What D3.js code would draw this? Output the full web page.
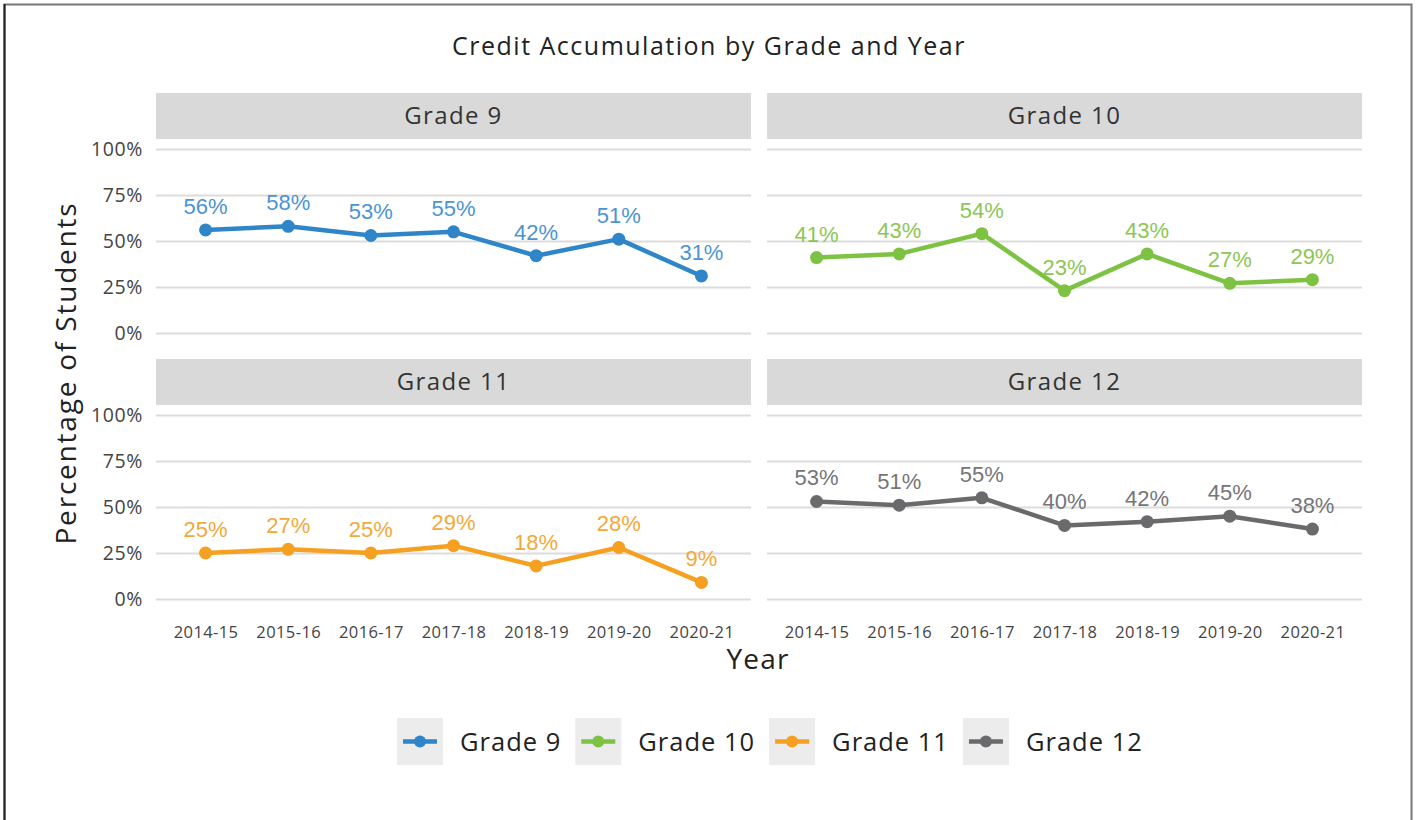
<!DOCTYPE html>
<html><head><meta charset="utf-8">
<script src="https://cdn.jsdelivr.net/npm/d3@7"></script>
<style>body{margin:0;background:#fff;} svg{display:block;}</style>
</head><body>
<svg id="c" width="1416" height="820"></svg>
<script>
const years = ["2014-15","2015-16","2016-17","2017-18","2018-19","2019-20","2020-21"];
const grades = ["Grade 9","Grade 10","Grade 11","Grade 12"];
const grade9 = [56,58,53,55,42,51,31];
const grade10 = [41,43,54,23,43,27,29];
const grade11 = [25,27,25,29,18,28,9];
const grade12 = [53,51,55,40,42,45,38];
const yTicks = [0,25,50,75,100];
const lineColors = ["#2e86c8","#7dc242","#f5a020","#6a6a6c"];
const labelColors = ["#4b94d2","#8cc654","#f4a83a","#757577"];
const seriesValues = [grade9,grade10,grade11,grade12];

const svg = d3.select("#c");
const FONT = "'Open Sans', sans-serif";

// frame
svg.append("rect").attr("x",4.5).attr("y",4.5).attr("width",1407).attr("height",830)
  .attr("fill","none").attr("stroke","#777").attr("stroke-width",2);
svg.append("line").attr("x1",4.5).attr("x2",4.5).attr("y1",4).attr("y2",820).attr("stroke","#222").attr("stroke-width",2);

svg.append("text").attr("x",709).attr("y",55).attr("text-anchor","middle")
  .attr("font-family",FONT).attr("font-size",25).attr("letter-spacing",1.5).attr("fill","#222").text("Credit Accumulation by Grade and Year");

const cols = [156, 767], panelW = 595;
const rows = [{strip:93, y0:333, y100:149}, {strip:359, y0:599, y100:415}];
const stripH = 46;

grades.forEach((g,i)=>{
  const c = i%2, r = Math.floor(i/2);
  const x0 = cols[c], R = rows[r];
  const x = d3.scalePoint().domain(years).range([x0, x0+panelW]).padding(0.6);
  const y = d3.scaleLinear().domain([0,100]).range([R.y0, R.y100]);
  const gp = svg.append("g");
  gp.append("rect").attr("x",x0).attr("y",R.strip).attr("width",panelW).attr("height",stripH).attr("fill","#d9d9d9");
  gp.append("text").attr("x",x0+panelW/2).attr("y",R.strip+stripH/2+8).attr("text-anchor","middle")
    .attr("font-family",FONT).attr("font-size",24).attr("letter-spacing",1.4).attr("fill","#333").text(g);
  // grid
  const yAxis = d3.axisLeft(y).tickValues(yTicks).tickSize(-panelW).tickFormat(d=>d+"%");
  const ga = gp.append("g").attr("transform",`translate(${x0},0)`).call(yAxis);
  ga.select(".domain").remove();
  ga.selectAll(".tick line").attr("stroke","#dcdcdc").attr("stroke-width",2);
  if (c===0) {
    ga.selectAll(".tick text").attr("fill","#444").attr("font-family",FONT).attr("font-size",19.5).attr("letter-spacing",0.6).attr("x",-13).attr("dy","0.35em");
  } else {
    ga.selectAll(".tick text").remove();
  }
  if (r===1) {
    const xa = gp.append("g").attr("transform",`translate(0,${R.y0+24})`).call(d3.axisBottom(x).tickSize(0));
    xa.select(".domain").remove();
    xa.selectAll(".tick text").attr("fill","#444").attr("font-family",FONT).attr("font-size",16.5).attr("letter-spacing",0.4).attr("dy","0.71em");
  }
  const vals = seriesValues[i];
  const line = d3.line().x((d,j)=>x(years[j])).y(d=>y(d));
  gp.append("path").datum(vals).attr("d",line).attr("fill","none").attr("stroke",lineColors[i]).attr("stroke-width",4.5).attr("stroke-linejoin","round");
  gp.selectAll("circle.p").data(vals).join("circle").attr("cx",(d,j)=>x(years[j])).attr("cy",d=>y(d)).attr("r",6.5).attr("fill",lineColors[i]);
  gp.selectAll("text.lab").data(vals).join("text").attr("class","lab")
    .attr("x",(d,j)=>x(years[j])).attr("y",d=>y(d)-16).attr("text-anchor","middle")
    .attr("font-family","'Liberation Sans', Arial, sans-serif").attr("font-size",22).attr("fill",labelColors[i]).text(d=>d+"%");
});

svg.append("text").attr("transform","translate(76,373) rotate(-90)").attr("text-anchor","middle")
  .attr("font-family",FONT).attr("font-size",28).attr("letter-spacing",1.8).attr("fill","#222").text("Percentage of Students");
svg.append("text").attr("x",758).attr("y",669).attr("text-anchor","middle")
  .attr("font-family",FONT).attr("font-size",28).attr("letter-spacing",1.2).attr("fill","#222").text("Year");

// legend
const lg = svg.append("g");
let lx = 397;
grades.forEach((g,i)=>{
  const k = lg.append("g").attr("transform",`translate(${lx},718)`);
  k.append("rect").attr("width",46).attr("height",47).attr("fill","#ececec");
  k.append("line").attr("x1",6).attr("x2",40).attr("y1",23.5).attr("y2",23.5).attr("stroke",lineColors[i]).attr("stroke-width",4.5);
  k.append("circle").attr("cx",23).attr("cy",23.5).attr("r",6).attr("fill",lineColors[i]);
  const t = k.append("text").attr("x",63).attr("y",33).attr("font-family",FONT).attr("font-size",25.5).attr("letter-spacing",1.0).attr("fill","#222").text(g);
  const w = t.node().getComputedTextLength();
  lx += 63 + w + 14;
});
</script>
</body></html>
